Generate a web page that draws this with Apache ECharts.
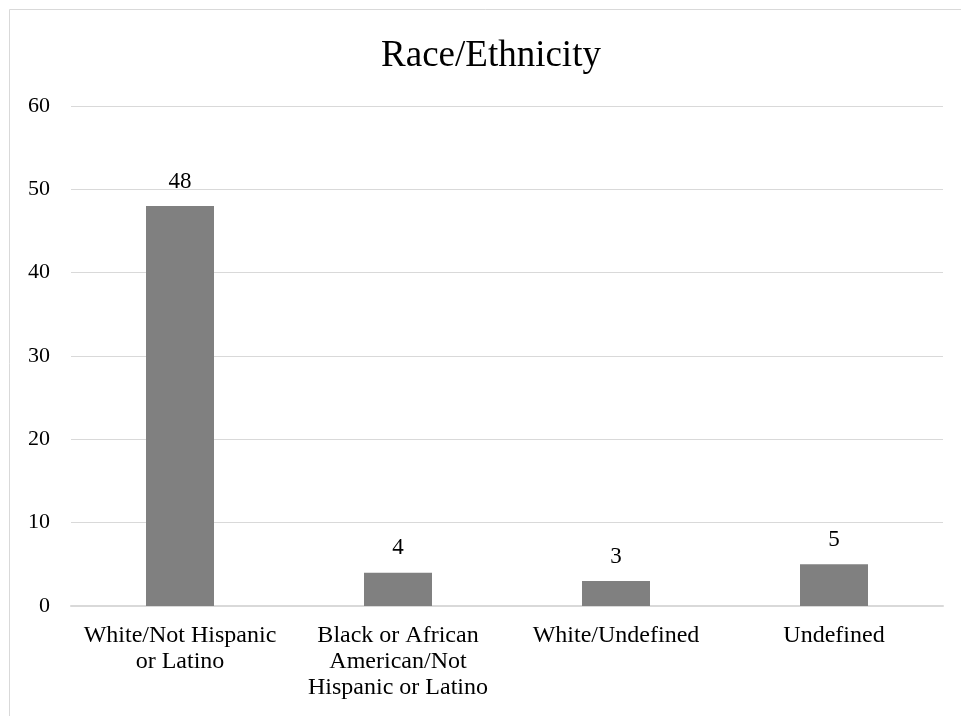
<!DOCTYPE html>
<html>
<head>
<meta charset="utf-8">
<title>Race/Ethnicity</title>
<script src="https://cdn.jsdelivr.net/npm/echarts@6/dist/echarts.min.js"></script>
<style>
  html, body { margin: 0; padding: 0; background: #ffffff; }
  #chart { width: 961px; height: 716px; }
</style>
</head>
<body>
<div id="chart"></div>
<script>
// Respondent counts by race/ethnicity
const categories = [
  'White/Not Hispanic\nor Latino',
  'Black or African\nAmerican/Not\nHispanic or Latino',
  'White/Undefined',
  'Undefined'
];
const counts = [48, 4, 3, 5];
const yTicks = { min: 0, max: 60, interval: 10 };

const serif = "'Liberation Serif', 'Times New Roman', serif";

const chart = echarts.init(document.getElementById('chart'), null, { renderer: 'canvas' });

chart.setOption({
  backgroundColor: '#ffffff',
  animation: false,
  graphic: [
    {
      // chart area frame, running off the right and bottom edges
      type: 'rect',
      silent: true,
      z: -10,
      shape: { x: 9.5, y: 9.5, width: 1200, height: 1200 },
      style: { fill: 'none', stroke: '#d9d9d9', lineWidth: 1 }
    }
  ],
  title: {
    text: 'Race/Ethnicity',
    left: 491,
    top: 38,
    textAlign: 'center',
    padding: 0,
    textStyle: { fontFamily: serif, fontSize: 37, fontWeight: 'normal', color: '#000000' }
  },
  grid: { left: 71, right: 18, top: 106, bottom: 110, containLabel: false },
  xAxis: {
    type: 'category',
    data: categories,
    axisLine: { show: true, lineStyle: { color: '#d9d9d9', width: 2 } },
    axisTick: { show: false },
    axisLabel: {
      interval: 0,
      margin: 17,
      fontFamily: serif,
      fontSize: 24,
      lineHeight: 26,
      color: '#000000',
      align: 'center'
    }
  },
  yAxis: {
    type: 'value',
    min: yTicks.min,
    max: yTicks.max,
    interval: yTicks.interval,
    axisLine: { show: false },
    axisTick: { show: false },
    splitLine: { show: true, lineStyle: { color: '#d9d9d9', width: 1 } },
    axisLabel: {
      margin: 21,
      fontFamily: serif,
      fontSize: 22,
      color: '#000000'
    }
  },
  series: [
    {
      type: 'bar',
      data: counts,
      barWidth: 68,
      itemStyle: { color: '#808080' },
      label: {
        show: true,
        position: 'top',
        distance: 13,
        fontFamily: serif,
        fontSize: 23,
        color: '#000000'
      }
    }
  ]
});
</script>
</body>
</html>
